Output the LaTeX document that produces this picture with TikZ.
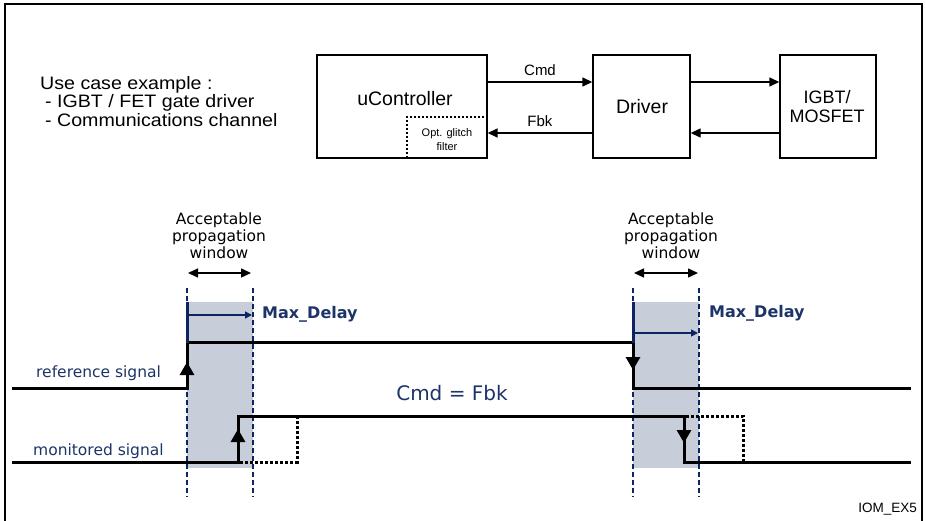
\documentclass[tikz,border=0pt]{standalone}
\usepackage{fontspec}
\setmainfont{Liberation Sans}
\newfontfamily\verd{DejaVu Sans}
\usetikzlibrary{arrows.meta}
\definecolor{navy}{RGB}{12,36,96}
\definecolor{navytext}{RGB}{28,52,104}
\definecolor{shadecol}{RGB}{199,205,217}
\tikzset{
  blk/.style={draw, line width=1.4pt, inner sep=0pt},
  dashblk/.style={draw, line width=1.3pt, dash pattern=on 2.5pt off 1.5pt, inner sep=0pt},
  flow/.style={line width=1.4pt, -{Triangle[length=10pt,width=9pt]}},
  sig/.style={line width=3pt},
  dotsig/.style={line width=3pt, dash pattern=on 3pt off 2pt},
  edgearrow/.style={line width=3pt, -{Triangle[length=13pt,width=14pt]}},
  winline/.style={navy, line width=1.8pt, dash pattern=on 5pt off 3pt},
  shadebox/.style={fill=shadecol, draw=none},
  maxarrow/.style={navy, line width=1.4pt, -{Triangle[length=7pt,width=7pt]}},
  winarrow/.style={line width=1.4pt, {Triangle[length=10pt,width=9pt]}-{Triangle[length=10pt,width=9pt]}},
  vtext/.style={font=\verd\fontsize{15.5}{17}\selectfont, align=center, inner sep=0pt},
  sigtext/.style={font=\verd\fontsize{15.5}{18}\selectfont, text=navytext, inner sep=0pt, anchor=west},
  maxtext/.style={font=\verd\bfseries\fontsize{16}{18}\selectfont, text=navytext, inner sep=0pt, anchor=west},
  usetext/.style={inner sep=0pt, anchor=west, font=\fontsize{18}{20}\selectfont},
  lbl/.style={inner sep=0pt}
}
\begin{document}
\begin{tikzpicture}[x=1pt,y=-1pt]
\useasboundingbox (0,0) rectangle (926,521);
% frame
\draw[line width=2pt] (4.5,522) -- (4.5,4) -- (922,4) -- (922,522);

% ---- block diagram ----
\node[usetext] (uc1) at (40,85) {\scalebox{1.09}[1]{Use case example :}};
\node[usetext] (uc2) at (45,103) {\scalebox{1.09}[1]{- IGBT / FET gate driver}};
\node[usetext] (uc3) at (45,120) {\scalebox{1.09}[1]{- Communications channel}};

\node[blk, minimum width=170pt, minimum height=103pt] (uc) at (402,106.5) {};
\node[lbl, font=\fontsize{19.5}{22}\selectfont] (uctext) at (405,99) {uController};
\node[dashblk, minimum width=80pt, minimum height=41pt] (flt) at (447,137.5) {};
\node[lbl, font=\fontsize{11}{14}\selectfont, align=center] (flttext) at (447,140) {Opt. glitch\\filter};

\node[blk, minimum width=97pt, minimum height=103pt] (drv) at (641.5,106.5) {};
\node[lbl, font=\fontsize{19.5}{22}\selectfont] (drvtext) at (642,107) {Driver};

\node[blk, minimum width=96pt, minimum height=103pt] (igbt) at (828,106.5) {};
\node[lbl, font=\fontsize{18}{19}\selectfont, align=center] (igbttext) at (827,106.5) {IGBT/\\MOSFET};

\coordinate (yhi) at (0,82);
\coordinate (ylo) at (0,133);
\draw[flow] (uc.east |- yhi) -- (drv.west |- yhi) node[midway, above=6pt, font=\fontsize{15}{17}\selectfont, inner sep=0pt] (cmdlbl) {Cmd};
\draw[flow] (drv.west |- ylo) -- (flt.east |- ylo) node[midway, above=6pt, font=\fontsize{15}{17}\selectfont, inner sep=0pt] (fbklbl) {Fbk};
\draw[flow] (drv.east |- yhi) -- (igbt.west |- yhi);
\draw[flow] (igbt.west |- ylo) -- (drv.east |- ylo);

% ---- timing diagram ----
% shaded windows
\fill[shadebox] (187,302) rectangle (253,468);
\fill[shadebox] (633,302) rectangle (699,468);
% window lines
\draw[winline] (187,288) -- (187,497);
\draw[winline] (253,288) -- (253,497);
\draw[winline] (633,288) -- (633,497);
\draw[winline] (699,288) -- (699,497);

% window labels
\node[vtext] (w1) at (219,236) {Acceptable\\propagation\\window};
\node[vtext] (w2) at (671,236) {Acceptable\\propagation\\window};
\coordinate (w1l) at (188,273); \coordinate (w1r) at (251,273);
\coordinate (w2l) at (634,273); \coordinate (w2r) at (698,273);
\draw[winarrow] (w1l) -- (w1r);
\draw[winarrow] (w2l) -- (w2r);

% reference signal
\draw[sig] (12,388) -- (187,388) -- (187,342) -- (633,342) -- (633,388) -- (911,388);
% monitored signal
\draw[sig] (12,462) -- (238,462) -- (238,416) -- (684,416) -- (684,462) -- (911,462);
% dotted alternatives
\draw[dotsig] (240,462) -- (297,462) -- (297,417);
\draw[dotsig] (686,416) -- (743,416) -- (743,462);

% navy markers
\draw[navy, line width=3pt] (187,302) -- (187,343);
\draw[navy, line width=3pt] (633,302) -- (633,343);
\draw[maxarrow] (188,315) -- (252,315);
\draw[maxarrow] (634,333) -- (698,333);
\node[maxtext] (md1) at (262,314) {Max\_Delay};
\node[maxtext] (md2) at (709,313) {Max\_Delay};

% edge arrows
\draw[edgearrow] (187,381) -- (187,362);
\draw[edgearrow] (633,349) -- (633,370);
\draw[edgearrow] (238,456) -- (238,429);
\draw[edgearrow] (684,419) -- (684,443);

% signal labels
\node[sigtext] (refl) at (36,373) {reference signal};
\node[sigtext] (monl) at (33,451) {monitored signal};
\node[lbl, font=\verd\fontsize{20}{22}\selectfont, text=navytext] (eq) at (452,393) {Cmd = Fbk};

\node[lbl, anchor=east, font=\fontsize{13.5}{15}\selectfont] (tag) at (917,509) {IOM\_EX5};
\end{tikzpicture}
\end{document}
